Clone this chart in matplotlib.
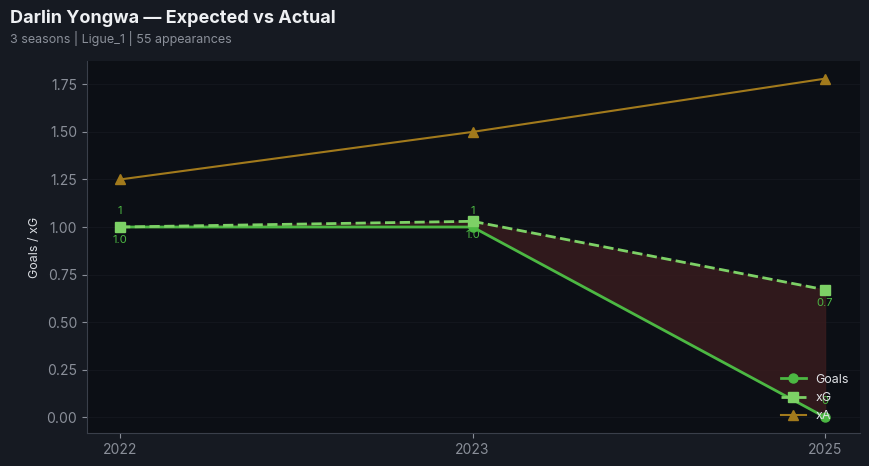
import matplotlib.pyplot as plt
import numpy as np

plt.rcParams['font.family'] = ['Inter', 'DejaVu Sans']

seasons = ['2022', '2023', '2025']
goals = [1, 1, 0]
xg = [1.0, 1.03, 0.67]
xa = [1.25, 1.5, 1.78]
goal_labels = ['1', '1', '0']
xg_labels = ['1.0', '1.0', '0.7']

fig_bg = '#161a22'
ax_bg = '#0c0f15'
c_goals = '#4cb843'
c_xg = '#7dd166'
c_xa = '#a27a1c'

fig = plt.figure(figsize=(8.69, 4.66), dpi=100, facecolor=fig_bg)
ax = fig.add_axes([0.1, 0.07, 0.89, 0.80])
ax.set_facecolor(ax_bg)

x = np.arange(len(seasons))
ax.fill_between(x, goals, xg, where=np.array(xg) >= np.array(goals),
                color='#3a1c1e', alpha=0.8, interpolate=True, zorder=1)
ax.plot(x, goals, color=c_goals, lw=2, marker='o', ms=6.5, label='Goals', zorder=3)
ax.plot(x, xg, color=c_xg, lw=2, ls='--', marker='s', ms=6.5, label='xG', zorder=3)
ax.plot(x, xa, color=c_xa, lw=1.5, marker='^', ms=6.5, label='xA', zorder=2)

for i in range(len(x)):
    ax.annotate(goal_labels[i], (x[i], goals[i]), xytext=(0, 8), textcoords='offset points',
                ha='center', va='bottom', fontsize=8, color=c_goals)
    ax.annotate(xg_labels[i], (x[i], xg[i]), xytext=(0, -6), textcoords='offset points',
                ha='center', va='top', fontsize=8, color=c_goals)

ax.set_xticks(x)
ax.set_xticklabels(seasons)
ax.set_xlim(-0.094, 2.1)
ax.set_ylim(-0.085, 1.875)
ax.set_yticks(np.arange(0, 1.76, 0.25))
ax.set_ylabel('Goals / xG', color='#d8dbe0', fontsize=9)
ax.tick_params(colors='#8a8f99', labelsize=10)
ax.grid(axis='y', color='#13161d', lw=0.8)
ax.set_axisbelow(True)
for s in ['top', 'right']:
    ax.spines[s].set_visible(False)
for s in ['left', 'bottom']:
    ax.spines[s].set_color('#3a3f4a')

leg = ax.legend(loc='lower right', frameon=False, fontsize=9, labelcolor='#e0e2e6')

fig.text(0.012, 0.96, 'Darlin Yongwa \u2014 Expected vs Actual', fontsize=13,
         fontweight='bold', color='#eef0f3', va='center')
fig.text(0.012, 0.918, '3 seasons | Ligue_1 | 55 appearances', fontsize=9,
         color='#8a8f99', va='center')

fig.savefig('out.png', dpi=100, facecolor=fig_bg)
